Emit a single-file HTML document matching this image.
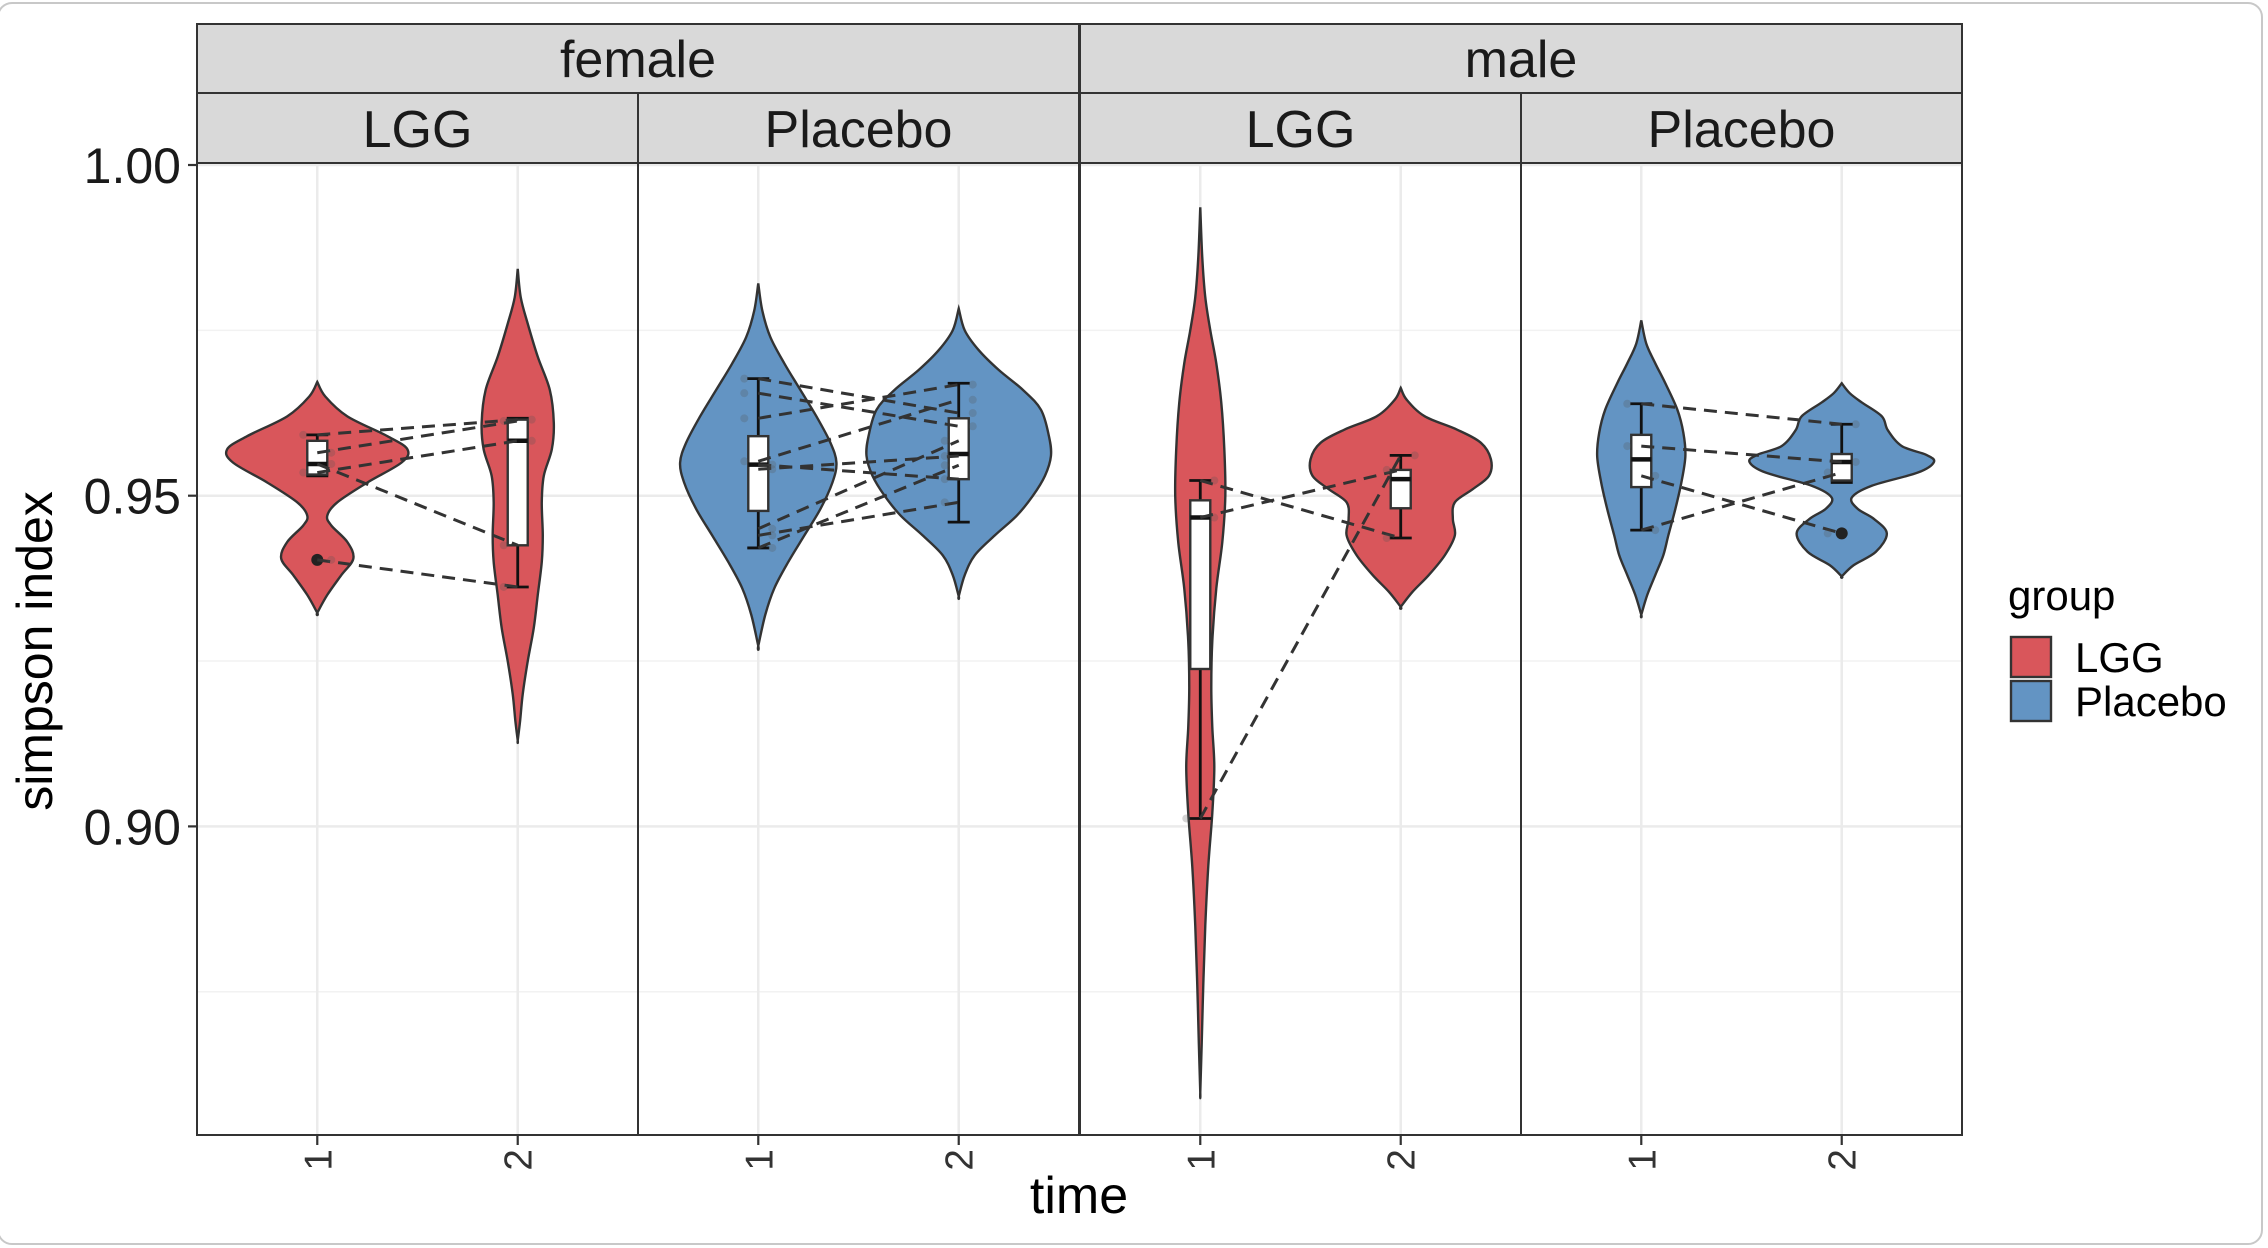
<!DOCTYPE html>
<html><head><meta charset="utf-8"><style>
html,body{margin:0;padding:0;background:#fff;}
svg{display:block;font-family:"Liberation Sans",Arial,sans-serif;}
</style></head><body>
<svg id="chart" width="2268" height="1248" viewBox="0 0 2268 1248" xmlns="http://www.w3.org/2000/svg">
<rect x="-2" y="3" width="2264" height="1241" rx="14" fill="#fff" stroke="#c8c8c8" stroke-width="2"/>
<g id="grid"></g>
<g id="marks"></g>
<g id="frames"></g>
<g id="labels"></g>
</svg>
<script>
const NS="http://www.w3.org/2000/svg";
// ---- data ----
const panelSex=["female","female","male","male"];
const panelGroup=["LGG","Placebo","LGG","Placebo"];
const times=["1","2"];
const yTicks=[1.00,0.95,0.90];
const yTickLabels=["1.00","0.95","0.90"];
const yMinor=[0.975,0.925,0.875];
// violin profiles: [value, half-density]
const violinFL1=[[0.9672,0],[0.965,0.04],[0.962,0.15],[0.959,0.35],[0.957,0.45],[0.955,0.42],[0.952,0.25],[0.949,0.10],[0.947,0.05],[0.9455,0.07],[0.943,0.15],[0.9405,0.18],[0.938,0.12],[0.935,0.05],[0.9323,0]];
const violinFL2=[[0.9843,0],[0.980,0.015],[0.976,0.05],[0.971,0.10],[0.966,0.16],[0.961,0.18],[0.957,0.17],[0.953,0.13],[0.949,0.12],[0.944,0.125],[0.940,0.12],[0.935,0.10],[0.930,0.08],[0.925,0.05],[0.920,0.025],[0.916,0.012],[0.913,0]];
const violinFP1=[[0.9821,0],[0.978,0.02],[0.974,0.06],[0.970,0.13],[0.966,0.21],[0.962,0.29],[0.958,0.36],[0.955,0.39],[0.952,0.37],[0.948,0.31],[0.944,0.23],[0.940,0.15],[0.936,0.08],[0.932,0.035],[0.9273,0]];
const violinFP2=[[0.9783,0],[0.975,0.03],[0.972,0.10],[0.969,0.20],[0.966,0.32],[0.963,0.41],[0.959,0.45],[0.956,0.46],[0.953,0.43],[0.950,0.37],[0.947,0.29],[0.944,0.18],[0.941,0.08],[0.938,0.03],[0.9348,0]];
const violinML1=[[0.9936,0],[0.986,0.01],[0.980,0.025],[0.975,0.05],[0.970,0.08],[0.964,0.105],[0.957,0.12],[0.950,0.125],[0.943,0.11],[0.936,0.08],[0.928,0.06],[0.921,0.055],[0.915,0.06],[0.909,0.07],[0.902,0.06],[0.894,0.04],[0.885,0.025],[0.876,0.015],[0.867,0.007],[0.8598,0]];
const violinML2=[[0.9663,0],[0.9645,0.03],[0.962,0.12],[0.960,0.28],[0.958,0.40],[0.9555,0.45],[0.953,0.44],[0.951,0.36],[0.949,0.27],[0.9465,0.26],[0.944,0.27],[0.941,0.22],[0.938,0.14],[0.9355,0.06],[0.9332,0]];
const violinMP1=[[0.9765,0],[0.973,0.025],[0.970,0.07],[0.967,0.12],[0.963,0.18],[0.9595,0.21],[0.956,0.22],[0.952,0.20],[0.948,0.17],[0.944,0.135],[0.941,0.11],[0.938,0.07],[0.935,0.03],[0.932,0]];
const violinMP2=[[0.967,0],[0.9655,0.04],[0.9641,0.10],[0.962,0.20],[0.9599,0.23],[0.9575,0.30],[0.9562,0.42],[0.9551,0.46],[0.9535,0.38],[0.9515,0.15],[0.9497,0.05],[0.948,0.08],[0.9465,0.16],[0.9443,0.225],[0.9415,0.17],[0.9395,0.06],[0.9378,0]];
const violins=[[violinFL1,violinFL2],[violinFP1,violinFP2],[violinML1,violinML2],[violinMP1,violinMP2]];
// boxplot stats: [lowerWhisker, q1, median, q3, upperWhisker]
const boxes=[
 [[0.9530,0.9532,0.9548,0.9583,0.9592],[0.9362,0.9425,0.9583,0.9615,0.9617]],
 [[0.9421,0.9477,0.9547,0.9590,0.9677],[0.9460,0.9525,0.9563,0.9617,0.9670]],
 [[0.9012,0.9238,0.9467,0.9493,0.9523],[0.9436,0.9481,0.9525,0.9539,0.9561]],
 [[0.9448,0.9513,0.9555,0.9592,0.9639],[0.9520,0.9523,0.9551,0.9563,0.9608]]];
const outliers=[[[0.9403],[]],[[],[]],[[],[]],[[],[0.9443]]];
// paired subjects: [time1, time2]
const pairsFL=[[0.9592,0.9615],[0.9565,0.9613],[0.9535,0.9583],[0.9548,0.9425],[0.9403,0.9362]];
const pairsFP=[[0.9677,0.9625],[0.9655,0.9605],[0.9617,0.9668],[0.9552,0.9645],[0.9547,0.9525],[0.9540,0.9560],[0.9450,0.9583],[0.9440,0.9490],[0.9421,0.9546]];
const pairsML=[[0.9523,0.9436],[0.9467,0.9539],[0.9012,0.9561]];
const pairsMP=[[0.9639,0.9608],[0.9575,0.9551],[0.9530,0.9443],[0.9448,0.9535]];
const pairs=[pairsFL,pairsFP,pairsML,pairsMP];
const groupColors={LGG:"#d9565b",Placebo:"#6394c3"};

// ---- scales ----
const panelLeft=[197,638,1080,1521], panelW=441, pTop=163, pBot=1135;
const unit=panelW/2.2;
function y(v){return 165+(1-v)*6614;}
function x(p,t){return panelLeft[p]+unit*(t+0.6);} // t=0 or 1
function el(tag,attrs,parent){const e=document.createElementNS(NS,tag);for(const k in attrs)e.setAttribute(k,attrs[k]);parent.appendChild(e);return e;}
const G=document.getElementById("grid"),M=document.getElementById("marks"),F=document.getElementById("frames"),L=document.getElementById("labels");

for(let p=0;p<4;p++){
  const bg=el("rect",{x:panelLeft[p],y:pTop,width:panelW,height:pBot-pTop,fill:"#fff"},G);
  
  
  yMinor.forEach(v=>{const g=el("line",{x1:panelLeft[p],x2:panelLeft[p]+panelW,y1:y(v),y2:y(v),stroke:"#f2f2f2","stroke-width":1.5},G);
    });
  yTicks.forEach(v=>{const g=el("line",{x1:panelLeft[p],x2:panelLeft[p]+panelW,y1:y(v),y2:y(v),stroke:"#ebebeb","stroke-width":2.5},G);
    });
  for(let t=0;t<2;t++){const g=el("line",{x1:x(p,t),x2:x(p,t),y1:pTop,y2:pBot,stroke:"#ebebeb","stroke-width":2.5},G);
    }
  const col=groupColors[panelGroup[p]];
  for(let t=0;t<2;t++){
    const prof=violins[p][t], cx=x(p,t);
    const right=prof.map(q=>[cx+q[1]*unit,y(q[0])]);
    const left=prof.slice().reverse().map(q=>[cx-q[1]*unit,y(q[0])]);
    const pts=right.concat(left);
    let d="M"+pts[0][0]+","+pts[0][1];
    for(let i=0;i<pts.length-1;i++){
      const p0=pts[Math.max(i-1,0)],p1=pts[i],p2=pts[i+1],p3=pts[Math.min(i+2,pts.length-1)];
      d+=" C"+(p1[0]+(p2[0]-p0[0])/6)+","+(p1[1]+(p2[1]-p0[1])/6)+" "+(p2[0]-(p3[0]-p1[0])/6)+","+(p2[1]-(p3[1]-p1[1])/6)+" "+p2[0]+","+p2[1];
    }
    d+="Z";
    const v=el("path",{d:d,fill:col,stroke:"#333","stroke-width":2.4},M);
    
    
  }
  for(let t=0;t<2;t++){
    const b=boxes[p][t], cx=x(p,t), hw=10;
    const w=el("line",{x1:cx,x2:cx,y1:y(b[0]),y2:y(b[4]),stroke:"#111","stroke-width":2.8},M);
    
    [b[0],b[4]].forEach(v=>{const c=el("line",{x1:cx-11,x2:cx+11,y1:y(v),y2:y(v),stroke:"#111","stroke-width":2.8},M);
      });
    const r=el("rect",{x:cx-hw,y:y(b[3]),width:2*hw,height:Math.max(y(b[1])-y(b[3]),1),fill:"#fff",stroke:"#333","stroke-width":2.4},M);
    
    const md=el("line",{x1:cx-hw,x2:cx+hw,y1:y(b[2]),y2:y(b[2]),stroke:"#111","stroke-width":4.5},M);
    
    outliers[p][t].forEach(v=>{const o=el("circle",{cx:cx,cy:y(v),r:6,fill:"#222"},M);
      });
  }
  pairs[p].forEach(pr=>{
    const ln=el("line",{x1:x(p,0),y1:y(pr[0]),x2:x(p,1),y2:y(pr[1]),stroke:"#333","stroke-width":3,"stroke-dasharray":"13,8"},M);
    
    [[0,pr[0],-14],[1,pr[1],14]].forEach(a=>{const c=el("circle",{cx:x(p,a[0])+a[2]*((pr[0]*1000)%2>1?1:-1),cy:y(a[1]),r:4,fill:"#555","fill-opacity":0.25},M);
      });
  });
  const fr=el("rect",{x:panelLeft[p],y:pTop,width:panelW,height:pBot-pTop,fill:"none",stroke:"#333","stroke-width":2},F);
  
  const s=el("rect",{x:panelLeft[p],y:93,width:panelW,height:70,fill:"#d9d9d9",stroke:"#333","stroke-width":2},F);
  
  const st=el("text",{x:panelLeft[p]+panelW/2,y:147,"text-anchor":"middle","font-size":52,fill:"#1a1a1a"},L);
  st.textContent=panelGroup[p];
  
  for(let t=0;t<2;t++){
    const tk=el("line",{x1:x(p,t),x2:x(p,t),y1:pBot,y2:pBot+10,stroke:"#333","stroke-width":2.2},F);
    
    const tl=el("text",{x:0,y:0,"text-anchor":"end","font-size":39,fill:"#333",transform:"translate("+(x(p,t)+14)+","+(pBot+14)+") rotate(-90)"},L);
    tl.textContent=times[t];
    
  }
}
[["female",197],["male",1080]].forEach(s=>{
  const r=el("rect",{x:s[1],y:24,width:2*panelW,height:69,fill:"#d9d9d9",stroke:"#333","stroke-width":2},F);
  
  const t=el("text",{x:s[1]+panelW,y:77,"text-anchor":"middle","font-size":52,fill:"#1a1a1a"},L);
  t.textContent=s[0];
  
});
yTicks.forEach((v,i)=>{
  const tk=el("line",{x1:188,x2:197,y1:y(v),y2:y(v),stroke:"#333","stroke-width":2.2},F);
  
  const t=el("text",{x:181,y:y(v)+18,"text-anchor":"end","font-size":50,fill:"#1a1a1a"},L);
  t.textContent=yTickLabels[i];
  
});
const yt=el("text",{x:0,y:0,"text-anchor":"middle","font-size":50,fill:"#000",transform:"translate(52,651) rotate(-90)"},L);
yt.textContent="simpson index";

const xt=el("text",{x:1079,y:1213,"text-anchor":"middle","font-size":52,fill:"#000"},L);
xt.textContent="time";

const lg=el("text",{x:2008,y:610,"font-size":42,fill:"#000"},L);
lg.textContent="group";

[["LGG",637],["Placebo",681]].forEach(e=>{
  const r=el("rect",{x:2011,y:e[1],width:40,height:40,fill:groupColors[e[0]],stroke:"#333","stroke-width":2.4},L);
  
  const t=el("text",{x:2075,y:e[1]+35,"font-size":42,fill:"#000"},L);
  t.textContent=e[0];
  
});
</script>
</body></html>
